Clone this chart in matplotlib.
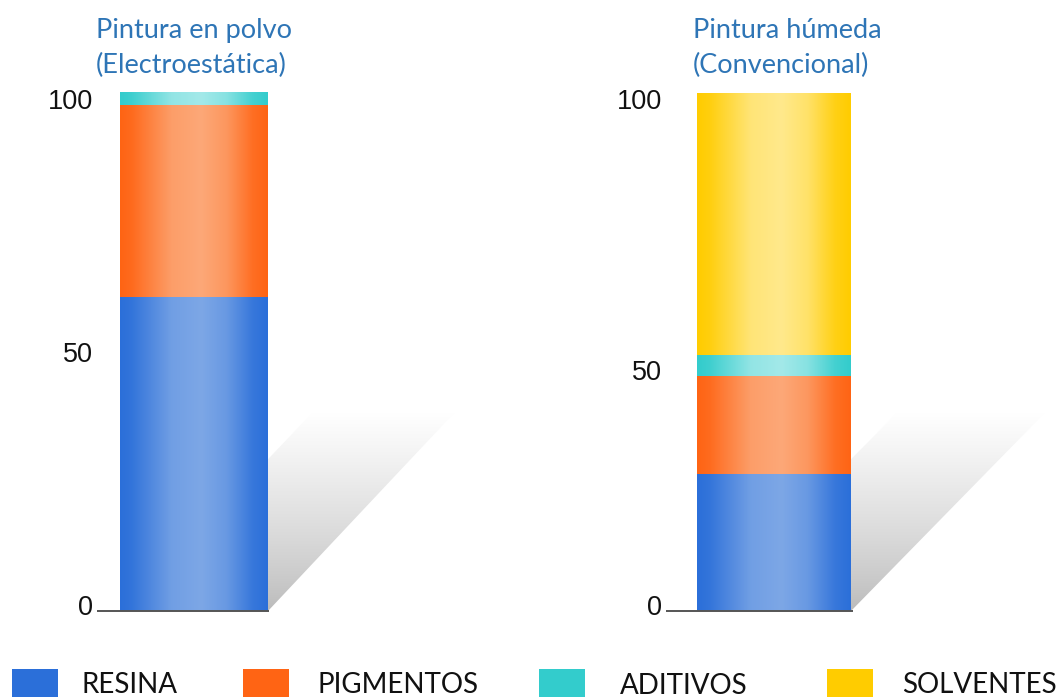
import numpy as np
import matplotlib
matplotlib.use('Agg')
import matplotlib.pyplot as plt
from matplotlib.patches import Rectangle, Polygon
from matplotlib.colors import to_rgb
from matplotlib.transforms import ScaledTranslation

# datos (% en peso)
categorias = ['RESINA', 'PIGMENTOS', 'ADITIVOS', 'SOLVENTES']
polvo = [62, 38, 2.6, 0]          # Pintura en polvo (Electroestática)
humeda = [27, 19.4, 4.2, 51.7]    # Pintura húmeda (Convencional)
titulos = [['Pintura en polvo', '(Electroestática)'],
           ['Pintura húmeda', '(Convencional)']]
ticks_izq = [0, 50, 100]
ticks_der = [0, 46.5, 100]
tick_labels = ['0', '50', '100']

oscuros = ['#2b6fd9', '#ff6414', '#33cccc', '#ffcc00']
claros = ['#7da7e6', '#fca878', '#a3e9e9', '#ffe98c']
azul_titulo = '#2e75b6'

W, H = 1058, 697
fig = plt.figure(figsize=(W / 100, H / 100), dpi=100)


def px_ax(x0, x1, y0, ytop):
    # caja de ejes en pixeles (x0,x1 horiz; y0 abajo, ytop arriba)
    return [x0 / W, 1 - y0 / H, (x1 - x0) / W, (y0 - ytop) / H]


# perfil horizontal del degradado (0 = oscuro, 1 = claro)
xs_p = np.linspace(0, 1, 200)
perfil = np.interp(xs_p, [0, 0.08, 0.35, 0.55, 0.72, 0.9, 1],
                   [0, 0.1, 0.85, 1.0, 0.75, 0.15, 0])


def barra_degradada(ax, valores):
    base = 0
    for v, c1, c2 in zip(valores, oscuros, claros):
        if v <= 0:
            continue
        rect = ax.bar(0, v, bottom=base, width=1, color='none', linewidth=0)[0]
        a, b = np.array(to_rgb(c1)), np.array(to_rgb(c2))
        img = a[None, None, :] + (b - a)[None, None, :] * perfil[None, :, None]
        im = ax.imshow(img, extent=[rect.get_x(), rect.get_x() + rect.get_width(),
                                    base, base + v], aspect='auto', zorder=3,
                       interpolation='bilinear')
        im.set_clip_path(rect)
        base += v


def sombra(ax):
    # sombra gris a la derecha de la barra
    pts = [[0.5, 0], [0.5, 30], [0.8, 39.2], [1.76, 39.2]]
    poly = Polygon(pts, closed=True, facecolor='none', edgecolor='none')
    ax.add_patch(poly)
    t = np.linspace(0, 1, 100)[:, None]
    g = 0.73 + 0.27 * t ** 0.8
    img = np.repeat(np.dstack([g, g, g]), 2, axis=1)
    im = ax.imshow(img, extent=[0.5, 1.76, 0, 39.2], origin='lower',
                   aspect='auto', zorder=1, interpolation='bilinear')
    im.set_clip_path(poly)


paneles = [
    dict(vals=polvo, centro=194, ancho=148, x0=97, x1=470, ticks=ticks_izq,
         tx=96),
    dict(vals=humeda, centro=774, ancho=154, x0=666, x1=1058, ticks=ticks_der,
         tx=693),
]
esc = 5.06  # px por unidad
for p, tit in zip(paneles, titulos):
    ymax = 105
    ax = fig.add_axes(px_ax(p['x0'], p['x1'], 611, 611 - ymax * esc))
    xl = (p['x0'] - p['centro']) / p['ancho']
    xr = (p['x1'] - p['centro']) / p['ancho']
    ax.set_xlim(xl, xr)
    ax.set_ylim(0, ymax)
    sombra(ax)
    barra_degradada(ax, p['vals'])
    ax.plot([xl, 0.51], [0, 0], color='#555555', lw=1.4, zorder=4,
            clip_on=False, solid_capstyle='butt')
    for s in ax.spines.values():
        s.set_visible(False)
    ax.set_xticks([])
    ax.set_yticks(p['ticks'])
    ax.set_yticklabels(tick_labels, fontsize=19.5, family='Liberation Sans',
                       color='#111111')
    ax.tick_params(axis='y', length=0, pad=3)
    off = ScaledTranslation(0, 4 / 72, fig.dpi_scale_trans)
    for lab in ax.get_yticklabels():
        lab.set_transform(lab.get_transform() + off)
    ax.patch.set_alpha(0)
    fig.text(p['tx'] / W, 1 - 38 / H, tit[0], fontsize=19.5, family='Lato',
             color=azul_titulo, va='baseline', ha='left')
    fig.text(p['tx'] / W, 1 - 73 / H, tit[1], fontsize=19.5, family='Lato',
             color=azul_titulo, va='baseline', ha='left')

# leyenda manual abajo (pegada al borde como en la referencia)
ley_cuadro = [12, 243, 539, 827]
ley_texto = [82, 318, 620, 902]
ley_base = [693, 693, 694, 693]
for cat, c, xq, xt, yb in zip(categorias, oscuros, ley_cuadro, ley_texto, ley_base):
    fig.patches.append(Rectangle((xq / W, 1 - 705 / H), 46 / W, 36 / H,
                                 transform=fig.transFigure, facecolor=c,
                                 edgecolor='none'))
    fig.text(xt / W, 1 - yb / H, cat, fontsize=20, family='Lato',
             color='#111111', va='baseline', ha='left')

fig.savefig('out.png', dpi=100)
